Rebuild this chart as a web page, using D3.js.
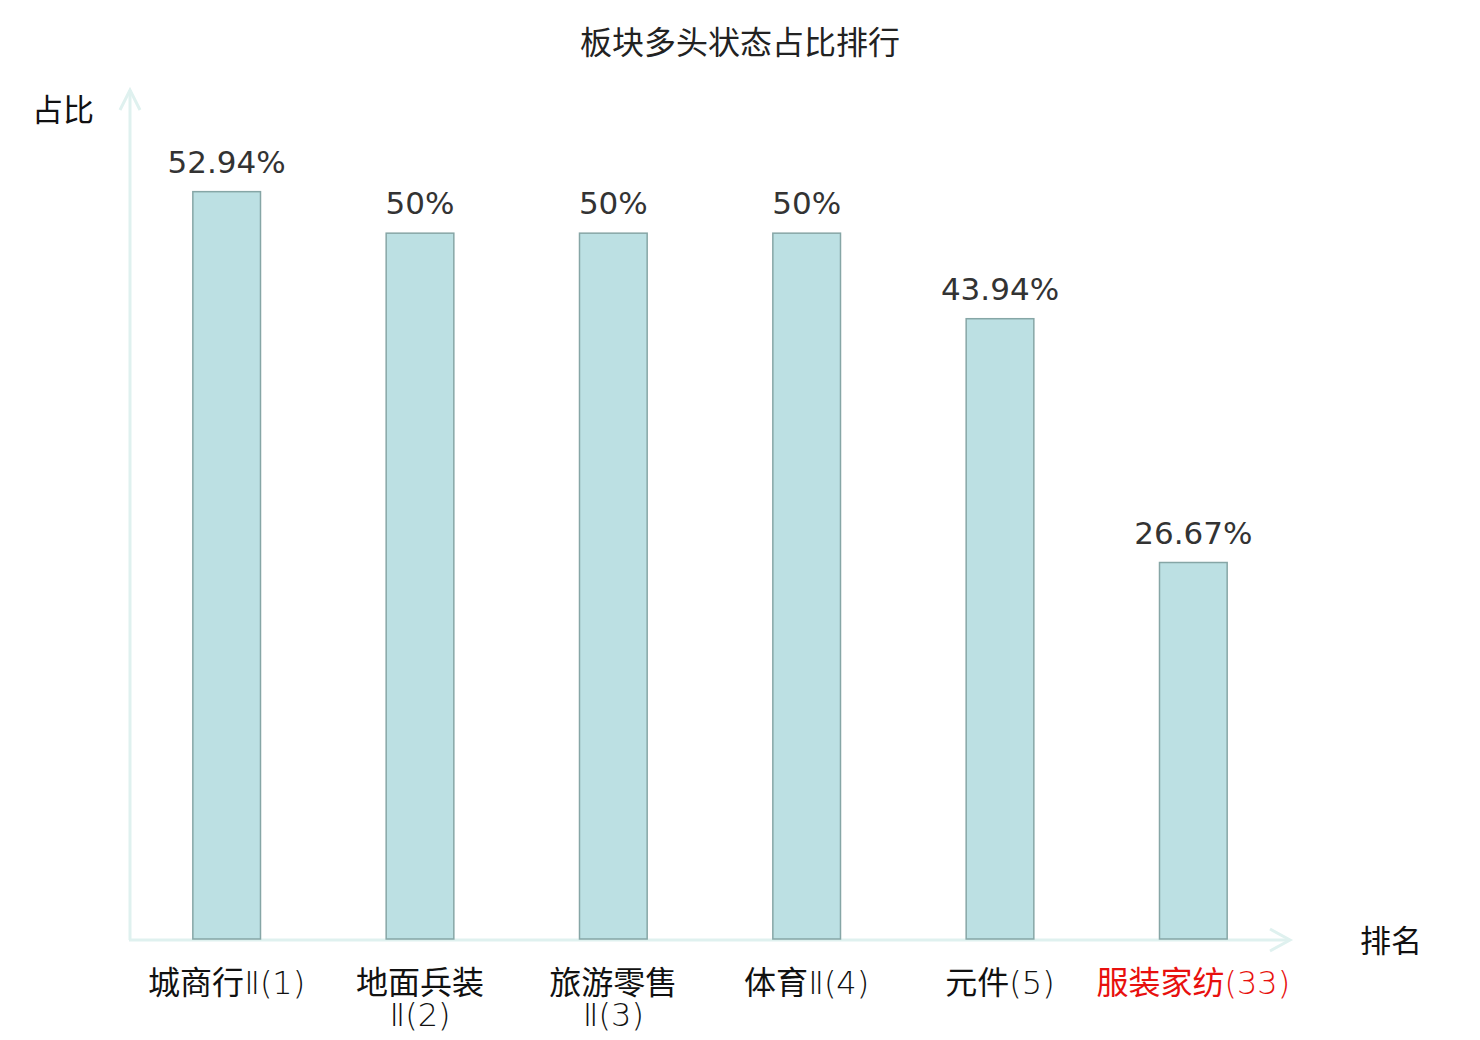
<!DOCTYPE html>
<html>
<head>
<meta charset="utf-8">
<script src="https://cdn.jsdelivr.net/npm/d3@7"></script>
<style>
  html, body { margin: 0; padding: 0; background: #fff; }
</style>
</head>
<body>
<svg id="chart" width="1480" height="1040"></svg>
<script>
// chart data
var names = ['城商行Ⅱ', '地面兵装Ⅱ', '旅游零售Ⅱ', '体育Ⅱ', '元件', '服装家纺'];
var ranks = [1, 2, 3, 4, 5, 33];
var shares = [52.94, 50, 50, 50, 43.94, 26.67];
var highlight = '服装家纺';

var svg = d3.select('#chart');
var cjk = '"Noto Sans CJK SC", "Noto Sans", sans-serif';
var latin = '"DejaVu Sans", sans-serif';
var axisColor = '#dff1ef';

var x0 = 130, x1 = 1290, yBase = 939;

var xScale = d3.scaleBand()
  .domain(names)
  .range([x0, x1])
  .paddingInner(0.65)
  .paddingOuter(0.325);

var yScale = d3.scaleLinear()
  .domain([0, 60])
  .range([yBase, 92]);

// title
svg.append('text')
  .attr('x', 740)
  .attr('y', 54)
  .attr('text-anchor', 'middle')
  .attr('font-family', cjk)
  .attr('font-size', '32px')
  .attr('fill', '#222')
  .text('板块多头状态占比排行');

// axes with arrows
svg.append('line')
  .attr('x1', x0).attr('y1', yBase + 1)
  .attr('x2', x0).attr('y2', 90)
  .attr('stroke', axisColor).attr('stroke-width', 3);
svg.append('path')
  .attr('d', 'M' + (x0 - 10) + ',110L' + x0 + ',90L' + (x0 + 10) + ',110')
  .attr('fill', 'none').attr('stroke', axisColor).attr('stroke-width', 3);

svg.append('line')
  .attr('x1', x0 - 1).attr('y1', yBase + 1)
  .attr('x2', 1288).attr('y2', yBase + 1)
  .attr('stroke', axisColor).attr('stroke-width', 3);
svg.append('path')
  .attr('d', 'M1270,' + (yBase - 10) + 'L1290,' + (yBase + 1) + 'L1270,' + (yBase + 12))
  .attr('fill', 'none').attr('stroke', axisColor).attr('stroke-width', 3);

// axis names
svg.append('text')
  .attr('x', 63).attr('y', 121)
  .attr('text-anchor', 'middle')
  .attr('font-family', cjk).attr('font-size', '31px').attr('fill', '#111')
  .text('占比');
svg.append('text')
  .attr('x', 1391).attr('y', 952)
  .attr('text-anchor', 'middle')
  .attr('font-family', cjk).attr('font-size', '31px').attr('fill', '#111')
  .text('排名');

// bars
svg.selectAll('rect.bar')
  .data(names)
  .enter()
  .append('rect')
  .attr('class', 'bar')
  .attr('x', function (d) { return xScale(d); })
  .attr('y', function (d, i) { return yScale(shares[i]); })
  .attr('width', xScale.bandwidth())
  .attr('height', function (d, i) { return yScale(0) - yScale(shares[i]); })
  .attr('fill', '#bce0e3')
  .attr('stroke', '#86a6a6')
  .attr('stroke-width', 1.5);

// value labels
svg.selectAll('text.value')
  .data(names)
  .enter()
  .append('text')
  .attr('class', 'value')
  .attr('x', function (d) { return xScale(d) + xScale.bandwidth() / 2; })
  .attr('y', function (d, i) { return yScale(shares[i]) - 19; })
  .attr('text-anchor', 'middle')
  .attr('font-family', latin)
  .attr('font-size', '31px')
  .attr('fill', '#333')
  .text(function (d, i) { return shares[i] + '%'; });

// category labels: chinese part regular, numeral and rank in a light latin face
function addParts(t, cn, rest) {
  if (cn) t.append('tspan').attr('font-family', cjk).text(cn);
  t.append('tspan').attr('font-family', latin).attr('font-weight', 200).text(rest);
}

var labels = svg.selectAll('text.cat')
  .data(names)
  .enter()
  .append('text')
  .attr('class', 'cat')
  .attr('x', function (d) { return xScale(d) + xScale.bandwidth() / 2; })
  .attr('y', 994)
  .attr('text-anchor', 'middle')
  .attr('font-size', '32px')
  .attr('fill', function (d) { return d === highlight ? '#e8100e' : '#111'; });

labels.each(function (d, i) {
  var el = d3.select(this);
  var roman = d.slice(-1) === 'Ⅱ';
  var cn = roman ? d.slice(0, -1) : d;
  var rest = (roman ? 'Ⅱ' : '') + '(' + ranks[i] + ')';
  addParts(el, cn, rest);
  if (this.getComputedTextLength() > 165 && roman) {
    el.selectAll('tspan').remove();
    var cx = +el.attr('x');
    var l1 = el.append('tspan').attr('x', cx);
    addParts(l1, cn, '');
    l1.select('tspan:last-child').remove();
    var l2 = el.append('tspan').attr('x', cx).attr('dy', 32);
    addParts(l2, '', rest);
  }
});
</script>
</body>
</html>
